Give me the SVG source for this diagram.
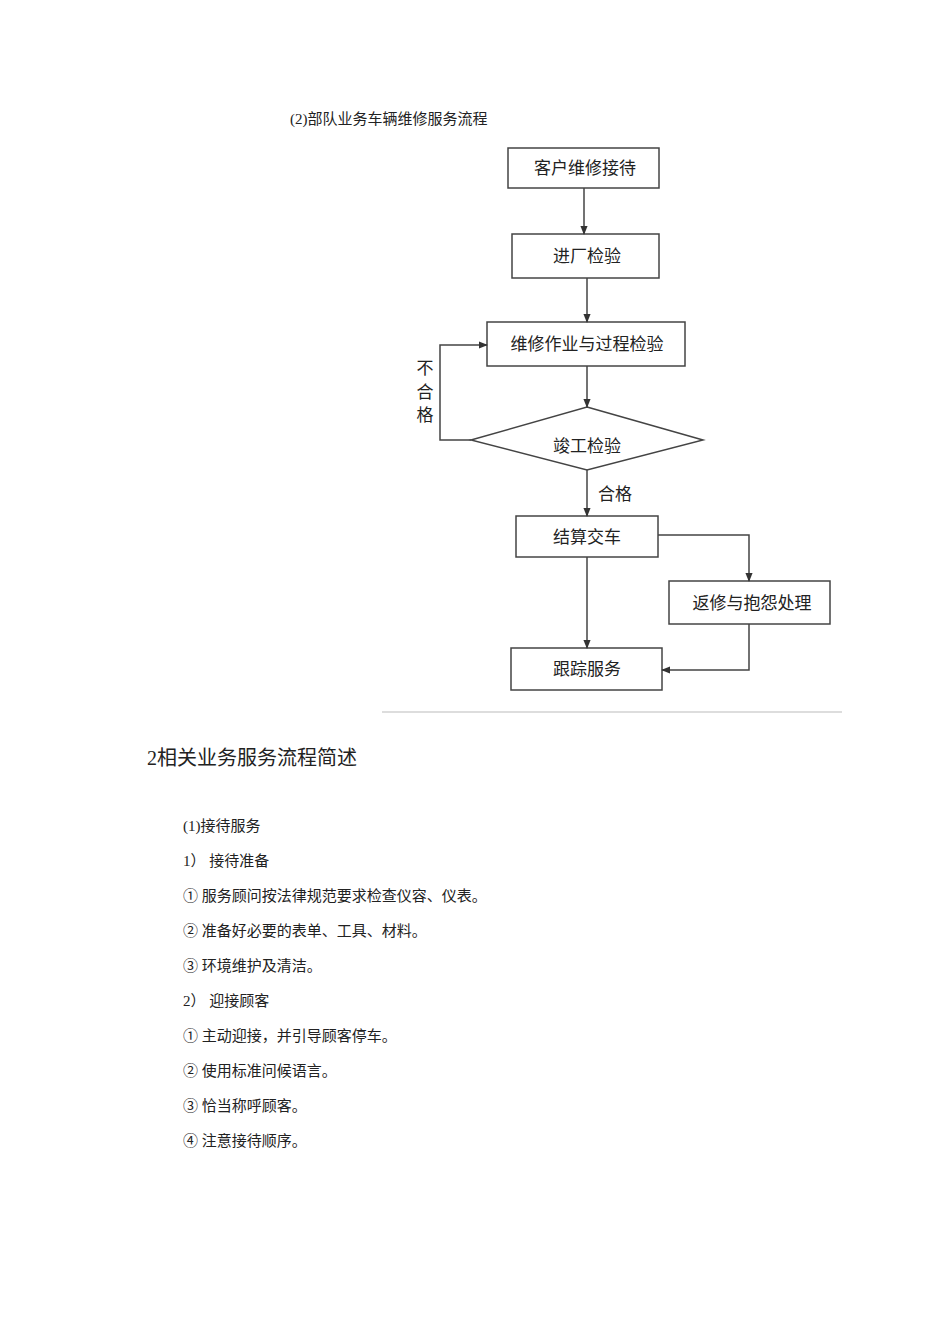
<svg xmlns="http://www.w3.org/2000/svg" width="950" height="1318" viewBox="0 0 950 1318">
<style>
.b{fill:#fff;stroke:#444;stroke-width:1.5}
.t{font-family:"Liberation Sans","Noto Sans CJK SC",sans-serif;font-size:17px;fill:#222;text-anchor:middle}
.s{font-family:"Liberation Serif","Noto Sans CJK SC",serif;font-size:15px;fill:#222}
.c{fill:none;stroke:#444;stroke-width:1.5}
</style>
<defs><marker id="a" viewBox="0 0 10 10" refX="9" refY="5" markerWidth="6" markerHeight="6" orient="auto"><path d="M0,1L10,5L0,9z" fill="#333"/></marker></defs>
<rect width="950" height="1318" fill="#fff"/>
<text class="s" x="290" y="124">(2)部队业务车辆维修服务流程</text>
<g id="n1"><rect class="b" x="508" y="148" width="151" height="40"/><text class="t" x="585" y="174">客户维修接待</text></g>
<g id="n2"><rect class="b" x="512" y="234" width="147" height="44"/><text class="t" x="587" y="262">进厂检验</text></g>
<g id="n3"><rect class="b" x="487" y="322" width="198" height="44"/><text class="t" x="587" y="350">维修作业与过程检验</text></g>
<g id="n4"><polygon class="b" points="587,407 703,440 587,470 471,440"/><text class="t" x="587" y="452">竣工检验</text></g>
<g id="n5"><rect class="b" x="516" y="516" width="142" height="41"/><text class="t" x="587" y="543">结算交车</text></g>
<g id="n6"><rect class="b" x="669" y="581" width="161" height="43"/><text class="t" x="752" y="609">返修与抱怨处理</text></g>
<g id="n7"><rect class="b" x="511" y="648" width="151" height="42"/><text class="t" x="587" y="675">跟踪服务</text></g>
<g id="connectors">
<line class="c" x1="584" y1="188" x2="584" y2="234" marker-end="url(#a)" stroke-width="2"/>
<line class="c" x1="587" y1="278" x2="587" y2="322" marker-end="url(#a)"/>
<line class="c" x1="587" y1="366" x2="587" y2="407" marker-end="url(#a)"/>
<polyline class="c" points="471,440 440,440 440,345 487,345" marker-end="url(#a)"/>
<line class="c" x1="587" y1="470" x2="587" y2="516" marker-end="url(#a)"/>
<polyline class="c" points="658,535 749,535 749,581" marker-end="url(#a)"/>
<line class="c" x1="587" y1="557" x2="587" y2="648" marker-end="url(#a)"/>
<polyline class="c" points="749,624 749,670 662,670" marker-end="url(#a)"/>
</g>
<text class="t" x="425" y="374">不</text><text class="t" x="425" y="398">合</text><text class="t" x="425" y="421">格</text>
<text class="t" x="615" y="500">合格</text>
<line x1="382" y1="712" x2="842" y2="712" stroke="#ddd" stroke-width="2"/>
<text class="s" x="147" y="765" style="font-size:20px">2相关业务服务流程简述</text>
<text class="s" x="183" y="831">(1)接待服务</text>
<text class="s" x="183" y="866">1） 接待准备</text>
<text class="s" x="183" y="901">① 服务顾问按法律规范要求检查仪容、仪表。</text>
<text class="s" x="183" y="936">② 准备好必要的表单、工具、材料。</text>
<text class="s" x="183" y="971">③ 环境维护及清洁。</text>
<text class="s" x="183" y="1006">2） 迎接顾客</text>
<text class="s" x="183" y="1041">① 主动迎接，并引导顾客停车。</text>
<text class="s" x="183" y="1076">② 使用标准问候语言。</text>
<text class="s" x="183" y="1111">③ 恰当称呼顾客。</text>
<text class="s" x="183" y="1146">④ 注意接待顺序。</text>
</svg>
